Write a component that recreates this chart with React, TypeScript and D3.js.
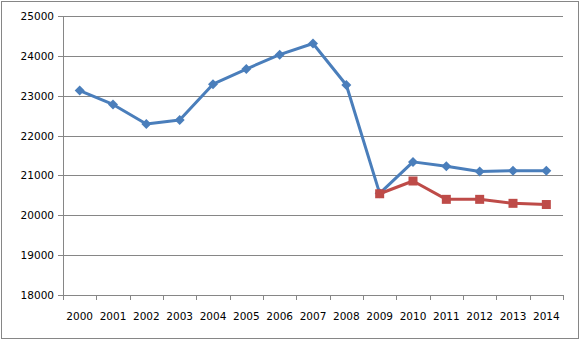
import * as d3 from "d3";

const years = ["2000", "2001", "2002", "2003", "2004", "2005", "2006", "2007", "2008", "2009", "2010", "2011", "2012", "2013", "2014"];
const blueValues = [23130, 22780, 22290, 22390, 23290, 23670, 24030, 24310, 23270, 20550, 21340, 21230, 21100, 21120, 21120];
// red series only starts in 2009
const redYears = ["2009", "2010", "2011", "2012", "2013", "2014"];
const redValues = [20540, 20860, 20400, 20400, 20300, 20270];
const yTicks = [18000, 19000, 20000, 21000, 22000, 23000, 24000, 25000];

const W = 581;
const H = 341;
const plot = { left: 63, right: 563, top: 16, bottom: 295 };
const font = "'DejaVu Sans', Verdana, sans-serif";

export default function App() {
  const x = d3.scaleBand().domain(years).range([plot.left, plot.right]);
  const y = d3.scaleLinear().domain([18000, 25000]).range([plot.bottom, plot.top]);
  const cx = (yr: string) => (x(yr) as number) + x.bandwidth() / 2;

  const blue = years.map((yr, i) => ({ yr, v: blueValues[i] }));
  const red = redYears.map((yr, i) => ({ yr, v: redValues[i] }));

  const line = d3
    .line<{ yr: string; v: number }>()
    .x((d) => cx(d.yr))
    .y((d) => y(d.v));

  const diamond = d3.symbol(d3.symbolSquare, 50)();
  const tickX = [...years.map((yr) => x(yr) as number), plot.right];

  return (
    <svg width={W} height={H} style={{ position: "absolute", left: 0, top: 0, background: "#fff" }}>
      <rect x={1.5} y={1.5} width={W - 4} height={H - 4} fill="#fff" stroke="#868686" />

      {/* gridlines */}
      {yTicks.slice(1).map((t) => (
        <line key={t} x1={plot.left} x2={plot.right} y1={Math.round(y(t)) + 0.5} y2={Math.round(y(t)) + 0.5} stroke="#868686" />
      ))}

      {/* y axis */}
      <line x1={plot.left + 0.5} x2={plot.left + 0.5} y1={plot.top} y2={plot.bottom} stroke="#868686" />
      {yTicks.map((t) => (
        <g key={t}>
          <line x1={plot.left - 5} x2={plot.left} y1={Math.round(y(t)) + 0.5} y2={Math.round(y(t)) + 0.5} stroke="#868686" />
          <text x={plot.left - 9} y={y(t) + 4} textAnchor="end" fontFamily={font} fontSize={10.5} fill="#000">
            {t}
          </text>
        </g>
      ))}

      {/* x axis */}
      <line x1={plot.left} x2={plot.right} y1={plot.bottom + 0.5} y2={plot.bottom + 0.5} stroke="#868686" />
      {tickX.map((tx, i) => (
        <line key={i} x1={Math.round(tx) + 0.5} x2={Math.round(tx) + 0.5} y1={plot.bottom} y2={plot.bottom + 5} stroke="#868686" />
      ))}
      {years.map((yr) => (
        <text key={yr} x={cx(yr)} y={320} textAnchor="middle" fontFamily={font} fontSize={10.5} fill="#000">
          {yr}
        </text>
      ))}

      {/* blue series */}
      <path d={line(blue) as string} fill="none" stroke="#4A7EBB" strokeWidth={3} strokeLinejoin="round" />
      {blue.map((d) => (
        <path key={d.yr} d={diamond as string} transform={`translate(${cx(d.yr)},${y(d.v)}) rotate(45)`} fill="#4A7EBB" />
      ))}

      {/* red series */}
      <path d={line(red) as string} fill="none" stroke="#BE4B48" strokeWidth={3} strokeLinejoin="round" />
      {red.map((d) => (
        <rect key={d.yr} x={cx(d.yr) - 4.5} y={y(d.v) - 4.5} width={9} height={9} fill="#BE4B48" />
      ))}
    </svg>
  );
}
